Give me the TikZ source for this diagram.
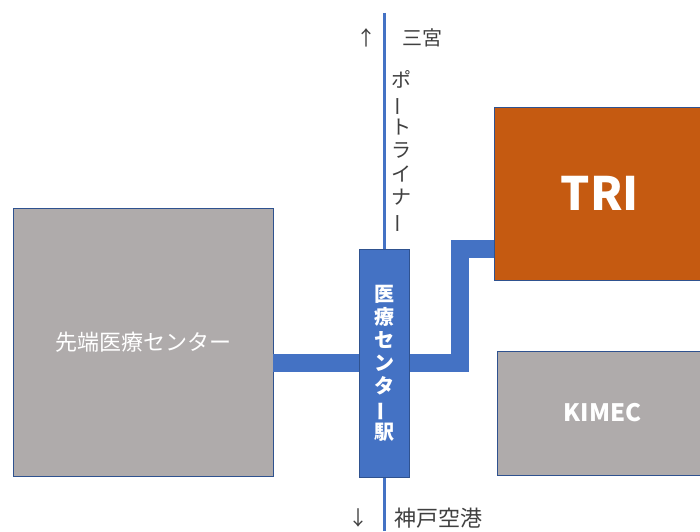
\documentclass[tikz,border=0pt]{standalone}
\usepackage{fontspec}
\setmainfont{Noto Sans CJK JP}
\newfontfamily\jpfont{Noto Sans CJK JP}
\usepackage{graphicx}
\definecolor{stblue}{HTML}{4472C4}
\definecolor{edgeblue}{HTML}{2F528F}
\definecolor{bldgray}{HTML}{AFABAB}
\definecolor{triorange}{HTML}{C55A11}
\definecolor{labelgray}{HTML}{404040}
\newcommand{\vbar}{\rotatebox[origin=c]{90}{ー}}
\tikzset{
  bldbox/.style={draw=edgeblue, line width=0.8pt, inner sep=0pt, text=white},
  stationbox/.style={draw=edgeblue, fill=stblue, line width=0.8pt, inner sep=0pt, text=white},
  conn/.style={draw=stblue, line width=18pt, line join=miter},
  track/.style={draw=stblue, line width=3pt},
  lbl/.style={text=labelgray, inner sep=0pt, font=\jpfont\fontsize{20}{23.5}\selectfont},
}
\begin{document}
\begin{tikzpicture}[x=1pt,y=1pt]
\useasboundingbox (0,0) rectangle (700,531);
% track
\coordinate (tracktop) at (384,518);
\coordinate (trackbot) at (384,0);
\draw[track] (tracktop) -- (trackbot);
% buildings
\node[bldbox, fill=bldgray, minimum width=260, minimum height=268, font=\jpfont\fontsize{22}{26}\selectfont] (sentan) at (143,189) {先端医療センター};
\node[bldbox, fill=triorange, minimum width=212, minimum height=173, font=\jpfont\bfseries\fontsize{46}{52}\selectfont] (tri) at (600,337.5) {TRI};
\node[bldbox, fill=bldgray, minimum width=211, minimum height=124, font=\jpfont\bfseries\fontsize{24}{28}\selectfont] (kimec) at (602.5,118) {KIMEC};
% connectors
\coordinate (bend) at (460,282);
\draw[conn] (sentan.east |- 384,168) -- (384,168);
\draw[conn] (384,168) -| (bend) -- (tri.west |- bend);
% station
\node[stationbox, minimum width=50, minimum height=228, align=center, font=\jpfont\bfseries\fontsize{20}{23}\selectfont] (station) at (384,168) {医\\療\\セ\\ン\\タ\\\vbar\\駅};
% labels
\node[lbl] (upArrow) at (366,493) {↑};
\node[lbl] (sannomiya) at (422,493) {三宮};
\node[lbl, align=center] (portliner) at (401,379) {ポ\\\vbar\\ト\\ラ\\イ\\ナ\\\vbar};
\node[lbl] (downArrow) at (358,13) {↓};
\node[lbl, font=\jpfont\fontsize{22}{26}\selectfont] (kobeairport) at (438,13) {神戸空港};
\end{tikzpicture}
\end{document}
